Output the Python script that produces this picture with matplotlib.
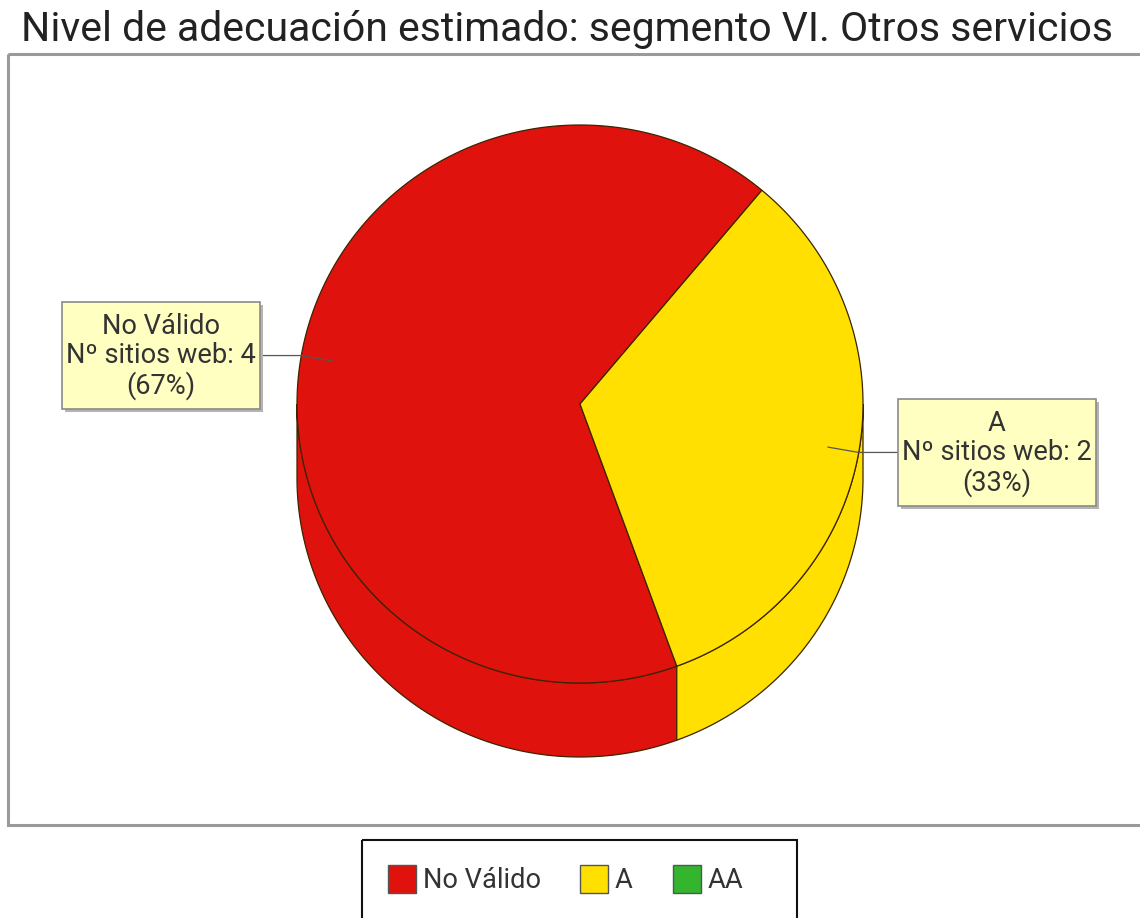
import numpy as np
import matplotlib
matplotlib.use("Agg")
import matplotlib.pyplot as plt
from matplotlib.patches import Polygon, Rectangle

# ---- data ----
categories = ["No Válido", "A", "AA"]
sites = [4, 2, 0]
colors = ["#E0120D", "#FFE000", "#33B52E"]
title = "Nivel de adecuación estimado: segmento VI. Otros servicios"
count_label = "Nº sitios web"

plt.rcParams['font.family'] = ['Roboto', 'DejaVu Sans']

W, H = 1140, 918
fig = plt.figure(figsize=(W / 100, H / 100), dpi=100)
ax = fig.add_axes([0, 0, 1, 1])
ax.set_xlim(0, W)
ax.set_ylim(H, 0)
ax.axis('off')

PT = 72 / 100  # pixel -> point
TXT = '#333333'
EDGE = '#3b2400'
FS = 27.2  # label font size in px

# plot frame
ax.add_patch(Rectangle((8, 54), 1140, 771, fill=False, ec='#9a9a9a', lw=2.2, zorder=1))

# title
ax.text(567, 41, title, ha='center', va='baseline', fontsize=41 * PT, color='#222222')

# ---- 3D pie geometry ----
cx, cy, rx, ry, depth = 580, 404, 283, 279, 74
start = 50.0

total = sum(sites)
spans = []
a = start
for v in sites:
    spans.append((a, a + 360.0 * v / total))
    a += 360.0 * v / total


def arc(t1, t2, dy=0.0, n=240):
    t = np.radians(np.linspace(t1, t2, n))
    return np.column_stack([cx + rx * np.cos(t), cy - ry * np.sin(t) + dy])


# visible side walls (front half of the pie)
for (a1, a2), v, c in zip(spans, sites, colors):
    if v == 0:
        continue
    for k in (-1, 0, 1):
        s = max(a1, 180 + 360 * k)
        e = min(a2, 360 + 360 * k)
        if e > s:
            pts = np.vstack([arc(s, e), arc(e, s, depth)])
            ax.add_patch(Polygon(pts, closed=True, fc=c, ec=EDGE, lw=0.9, zorder=2))

# top faces
for (a1, a2), v, c in zip(spans, sites, colors):
    if v == 0:
        continue
    pts = np.vstack([[cx, cy], arc(a1, a2)])
    ax.add_patch(Polygon(pts, closed=True, fc=c, ec=EDGE, lw=0.9, zorder=3))

# ---- slice labels ----
BW, BH = 198, 107
for (a1, a2), v, name in zip(spans, sites, categories):
    if v == 0:
        continue
    m = np.radians((a1 + a2) / 2)
    rim_x = cx + rx * np.cos(m)
    rim_y = cy - ry * np.sin(m)
    in_x = cx + 0.89 * rx * np.cos(m)
    in_y = cy - 0.89 * ry * np.sin(m)
    if np.cos(m) < 0:
        bx = 62
        edge_x = bx + BW
    else:
        bx = 898
        edge_x = bx
    by = rim_y - BH / 2
    ax.plot([edge_x, rim_x, in_x], [rim_y, rim_y, in_y], color='#555555', lw=0.9, zorder=4)
    ax.add_patch(Rectangle((bx + 3, by + 3), BW, BH, fc='#b4b4b4', ec='none', zorder=4))
    ax.add_patch(Rectangle((bx, by), BW, BH, fc='#FFFFC2', ec='#8a8a8a', lw=1.2, zorder=5))
    pct = round(100 * v / total)
    ax.text(bx + BW / 2, rim_y + 1, f"{name}\n{count_label}: {v}\n({pct}%)",
            ha='center', va='center', fontsize=FS * PT, color=TXT,
            linespacing=1.1, zorder=6)

# ---- legend ----
ax.add_patch(Rectangle((362, 840), 435, 100, fill=False, ec='#111111', lw=1.5, zorder=5))
item_x = [388, 580, 673]
for x0, name, c in zip(item_x, categories, colors):
    ax.add_patch(Rectangle((x0, 865), 28, 28, fc=c, ec='#555555', lw=1.0, zorder=6))
    ax.text(x0 + 35, 880, name, ha='left', va='center', fontsize=FS * PT, color=TXT, zorder=6)

fig.savefig("out.png", dpi=100)
